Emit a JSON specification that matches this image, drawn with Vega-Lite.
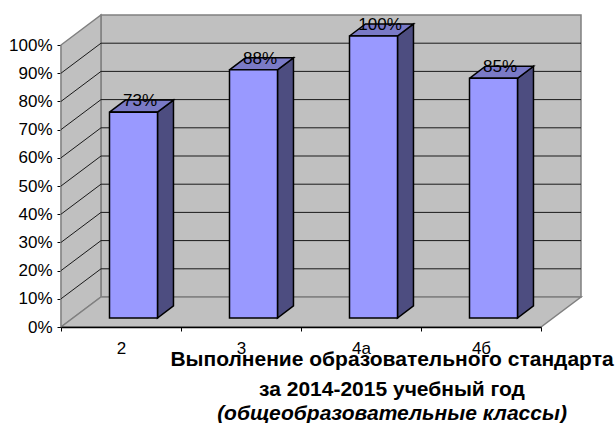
{
"$schema":"https://vega.github.io/schema/vega-lite/v6.json",
"width":480,"height":282,"autosize":"none",
"padding":{"left":61,"top":45,"right":74,"bottom":96},
"background":"white",
"config":{"view":{"stroke":null},"font":"Liberation Sans",
"axisY":{"labelOverlap":false,"ticks":true,"tickCount":11,"tickColor":"#000","tickSize":4,"labelPadding":5,"labelFontSize":17,"labelColor":"#000","domainColor":"#808080","domainWidth":1.5,"grid":false,"zindex":1,"title":null},
"axisX":{"labelOverlap":false}},
"datasets":{
"bars":[{"class":"2","value":0.73},{"class":"3","value":0.88},{"class":"4а","value":1.0},{"class":"4б","value":0.85}],
"ticks":[{"tick":0.1},{"tick":0.2},{"tick":0.3},{"tick":0.4},{"tick":0.5},{"tick":0.6},{"tick":0.7},{"tick":0.8},{"tick":0.9}],
"planes":[
{"plane":"left","seq":1,"x":0,"y":0},
{"plane":"left","seq":2,"x":0.333,"y":0.1064},
{"plane":"left","seq":3,"x":0.333,"y":1.1064},
{"plane":"left","seq":4,"x":0,"y":1},
{"plane":"left","seq":5,"x":0,"y":0},
{"plane":"floor","seq":1,"x":0,"y":0},
{"plane":"floor","seq":2,"x":4,"y":0},
{"plane":"floor","seq":3,"x":4.333,"y":0.1064},
{"plane":"floor","seq":4,"x":0.333,"y":0.1064},
{"plane":"floor","seq":5,"x":0,"y":0}
]},
"title":{"text":["Выполнение образовательного стандарта","за 2014-2015 учебный год"],
"subtitle":"(общеобразовательные классы)",
"orient":"bottom","anchor":"middle","dx":91,"offset":-7,"fontSize":21,"fontWeight":"bold","lineHeight":29.5,"color":"#000",
"subtitleFontSize":21,"subtitleFontWeight":"bold","subtitleFontStyle":"italic","subtitleColor":"#000","subtitlePadding":3,"subtitleLineHeight":24},
"resolve":{"scale":{"x":"independent"}},
"layer":[
{"layer":[
{"data":{"values":[{"wall":"back"}]},
"mark":{"type":"rect","fill":"#c0c0c0","stroke":"#808080","strokeWidth":1.5,"xOffset":40,"x2Offset":40,"yOffset":-30,"y2Offset":-30},
"encoding":{
"x":{"datum":0,"type":"quantitative","scale":{"domain":[0,4],"nice":false,"zero":false},"axis":null},
"x2":{"datum":4},
"y":{"datum":0,"type":"quantitative","scale":{"domain":[0,1],"nice":false},"axis":{"format":".0%"}},
"y2":{"datum":1}}},
{"data":{"name":"planes"},"mark":{"type":"line","fill":"#c0c0c0","stroke":"#808080","strokeWidth":1.5},
"encoding":{"x":{"field":"x","type":"quantitative"},"y":{"field":"y","type":"quantitative"},"detail":{"field":"plane"},"order":{"field":"seq"}}},
{"data":{"name":"ticks"},"mark":{"type":"rule","stroke":"#1a1a1a","strokeWidth":1,"xOffset":40,"x2Offset":40,"yOffset":-30},
"encoding":{"x":{"datum":0,"type":"quantitative"},"x2":{"datum":4},"y":{"field":"tick","type":"quantitative"}}},
{"data":{"name":"ticks"},"mark":{"type":"rule","stroke":"#1a1a1a","strokeWidth":1,"x2Offset":40,"y2Offset":-30},
"encoding":{"x":{"datum":0,"type":"quantitative"},"x2":{"datum":0},"y":{"field":"tick","type":"quantitative"},"y2":{"field":"tick"}}}
]},
{"data":{"name":"bars"},
"transform":[{"calculate":"indexof(['2','3','4а','4б'],datum['class'])","as":"slot"}],
"layer":[
{"transform":[{"calculate":"[0,1]","as":"seq"},{"flatten":["seq"]},
{"calculate":"datum.slot+0.804+datum.seq*0.1333","as":"px"},
{"calculate":"datum.value+0.032+datum.seq*0.0426","as":"py"},
{"calculate":"0.032+datum.seq*0.0426","as":"py2"}],
"mark":{"type":"area","fill":"#4d4d80","stroke":"#000","strokeWidth":1.5},
"encoding":{
"x":{"field":"px","type":"quantitative","scale":{"domain":[0,4],"nice":false,"zero":false},"axis":null},
"y":{"field":"py","type":"quantitative","scale":{"domain":[0,1],"nice":false}},"y2":{"field":"py2"},
"detail":{"field":"class"}}},
{"transform":[{"calculate":"[0,1,2,3,4]","as":"seq"},{"flatten":["seq"]},
{"calculate":"datum.slot+0.404+((datum.seq==1||datum.seq==2)?0.4:0)+((datum.seq==2||datum.seq==3)?0.1333:0)","as":"px"},
{"calculate":"datum.value+0.032+((datum.seq==2||datum.seq==3)?0.0426:0)","as":"py"}],
"mark":{"type":"line","fill":"#7a7ac6","stroke":"#000","strokeWidth":1.5},
"encoding":{
"x":{"field":"px","type":"quantitative"},
"y":{"field":"py","type":"quantitative"},
"detail":{"field":"class"},"order":{"field":"seq"}}}
]},
{"data":{"name":"bars"},
"layer":[
{"mark":{"type":"bar","size":48,"fill":"#9999ff","stroke":"#000","strokeWidth":1.5,"xOffset":12.5,"yOffset":-9,"y2Offset":-9},
"encoding":{
"x":{"field":"class","type":"nominal","sort":null,"scale":{"paddingInner":0,"paddingOuter":0},
"axis":{"orient":"bottom","title":null,"labelAngle":0,"tickBand":"extent","domainColor":"#000","domainWidth":1.5,"tickColor":"#000","tickSize":4,"labelPadding":9,"labelFontSize":17,"labelColor":"#000","zindex":1}},
"y":{"field":"value","type":"quantitative"},"y2":{"datum":0}}},
{"mark":{"type":"text","fontSize":17,"color":"#000","align":"center","baseline":"alphabetic","dx":19,"dy":-15},
"encoding":{
"x":{"field":"class","type":"nominal","sort":null},
"y":{"field":"value","type":"quantitative"},
"text":{"field":"value","type":"quantitative","format":".0%"}}}
]}
]}
